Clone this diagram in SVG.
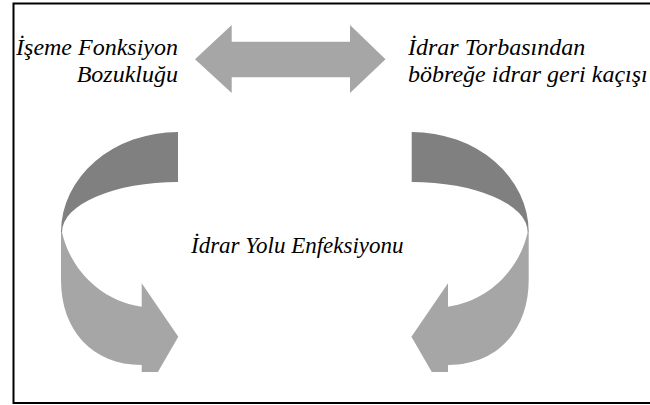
<svg xmlns="http://www.w3.org/2000/svg" width="650" height="405" viewBox="0 0 650 405">
  <defs>
    <style>
      .dark { fill: #808080; }
      .light { fill: #a6a6a6; }
    </style>
    <clipPath id="cut"><rect x="0" y="0" width="650" height="372"/></clipPath>
    <g id="curl">
      <path class="dark" d="M178,132 A117,100 0 0 0 61,232 L62,232 A116,50 0 0 1 178,182 Z"/>
      <path class="light" d="M61,232 L61,280 C61,330 92,365 141.7,365 L141.7,400 L178.3,336.7 L141.7,283.3 L141.7,306.7 C95,300 68,262 62,232 Z"/>
    </g>
  </defs>
  <rect x="13.5" y="3.5" width="700" height="399.5" fill="#fff" stroke="#000" stroke-width="2"/>
  <g id="connectors">
    <g id="double-arrow">
      <path class="light" d="M195,59.3 L231.7,25 L231.7,41.7 L350,41.7 L350,25 L385.5,59.3 L350,93 L350,77.3 L231.7,77.3 L231.7,93 Z"/>
    </g>
    <g id="curl-left" clip-path="url(#cut)">
      <use href="#curl"/>
    </g>
    <g id="curl-right" clip-path="url(#cut)">
      <use href="#curl" transform="translate(589.7,0) scale(-1,1)"/>
    </g>
  </g>
  <g id="node-iseme">
    <text font-family="Liberation Serif" font-style="italic" font-size="24" text-anchor="end" x="178" y="55">İşeme Fonksiyon</text>
    <text font-family="Liberation Serif" font-style="italic" font-size="24" text-anchor="end" x="178" y="82">Bozukluğu</text>
  </g>
  <g id="node-idrar-torbasi">
    <text font-family="Liberation Serif" font-style="italic" font-size="24" x="408" y="55">İdrar Torbasından</text>
    <text font-family="Liberation Serif" font-style="italic" font-size="24" x="408" y="82">böbreğe idrar geri kaçışı</text>
  </g>
  <g id="node-enfeksiyon">
    <text font-family="Liberation Serif" font-style="italic" font-size="23" x="191" y="253">İdrar Yolu Enfeksiyonu</text>
  </g>
</svg>
